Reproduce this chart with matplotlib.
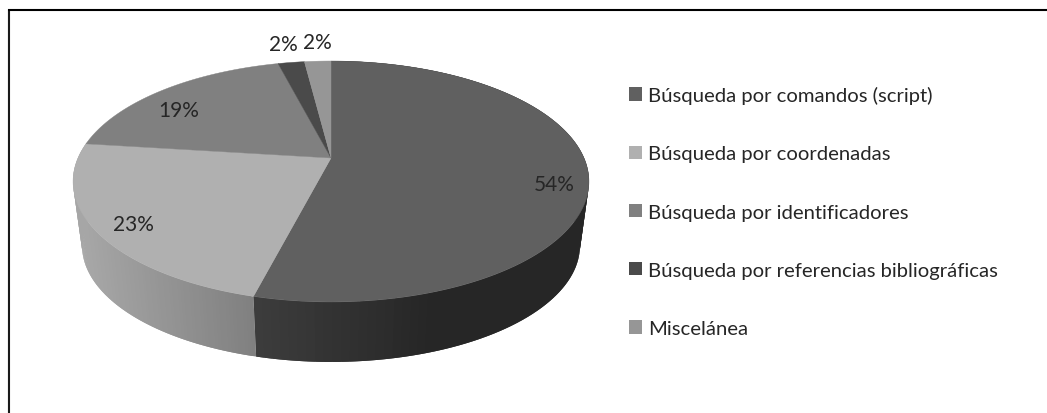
import numpy as np
import matplotlib
matplotlib.use("Agg")
import matplotlib.pyplot as plt
from matplotlib.patches import Patch

categories = [
    "Búsqueda por comandos (script)",
    "Búsqueda por coordenadas",
    "Búsqueda por identificadores",
    "Búsqueda por referencias bibliográficas",
    "Miscelánea",
]
values = [54, 23, 19, 2, 2]

top_colors = ["#606060", "#b0b0b0", "#808080", "#4a4a4a", "#969696"]
# wall shading: slice index -> pixel x range and the greys at its two ends
wall_colors = {0: (255, 430, "#3c3c3c", "#262626"), 1: (85, 255, "#a6a6a6", "#7f7f7f")}
label_pos = [(554, 185), (133, 225), (179, 111), (283, 45), (317, 43)]

# projection of the pie disc, in picture pixels
CX, CY = 331, 159
A, B, K = 253, 115.9, 0.195
DEPTH_SCALE, DEPTH = 0.965, 65


def project(theta):
    # theta runs clockwise from the top of the pie
    X, Y = np.sin(theta), np.cos(theta)
    w = 1 + K * Y
    return CX + A * X / w, CY - B * Y / w


def project_bottom(theta):
    x, y = project(theta)
    return CX + (x - CX) * DEPTH_SCALE, CY + (y - CY) * DEPTH_SCALE + DEPTH


def mix(c1, c2, t):
    a = np.array(matplotlib.colors.to_rgb(c1))
    b = np.array(matplotlib.colors.to_rgb(c2))
    return tuple(a + (b - a) * np.clip(t, 0, 1))


plt.rcParams['font.family'] = ['Lato', 'DejaVu Sans']

fig = plt.figure(figsize=(10.47, 4.14), dpi=100)
ax = fig.add_axes([0, 0, 1, 1])
ax.set_xlim(0, 1047)
ax.set_ylim(414, 0)
ax.axis("off")

edges = np.concatenate([[0], np.cumsum(values)]) / sum(values) * 2 * np.pi

# side walls first, the top face covers whatever is behind it
for i, (x0, x1, c1, c2) in wall_colors.items():
    steps = np.linspace(edges[i], edges[i + 1], 120)
    # each strip reaches into the next one so no seams show
    for n in range(len(steps) - 1):
        end = min(n + 2, len(steps) - 1)
        t = np.linspace(steps[n], steps[end], 4)
        xt, yt = project(t)
        xb, yb = project_bottom(t)
        col = mix(c1, c2, (xt.mean() - x0) / (x1 - x0))
        ax.fill(np.r_[xt, xb[::-1]], np.r_[yt, yb[::-1]], facecolor=col, edgecolor="none")

# top face
for i, v in enumerate(values):
    t = np.linspace(edges[i], edges[i + 1], 200)
    x, y = project(t)
    ax.fill(np.r_[CX, x], np.r_[CY, y], color=top_colors[i], lw=0.3)

for v, (x, y) in zip(values, label_pos):
    ax.text(x, y, f"{v}%", fontsize=15, color="#262626", ha="center", va="center")

handles = [Patch(facecolor=c, edgecolor="none") for c in top_colors]
ax.legend(handles, categories, loc="upper left", bbox_to_anchor=(611, 69),
          bbox_transform=ax.transData, frameon=False, fontsize=14.6,
          labelspacing=2.03, handlelength=0.64, handleheight=0.64,
          handletextpad=0.3, labelcolor="#262626")

# picture frame, only top and left survive the crop
ax.plot([7.5, 7.5], [11, 414], color="#b5b5b5", lw=0.8)
ax.plot([9, 9], [10, 414], color="#1a1a1a", lw=1.5, solid_capstyle="butt")
ax.plot([8, 1047], [11, 11], color="black", lw=1.5, solid_capstyle="butt")

fig.savefig("out.png", dpi=100)
